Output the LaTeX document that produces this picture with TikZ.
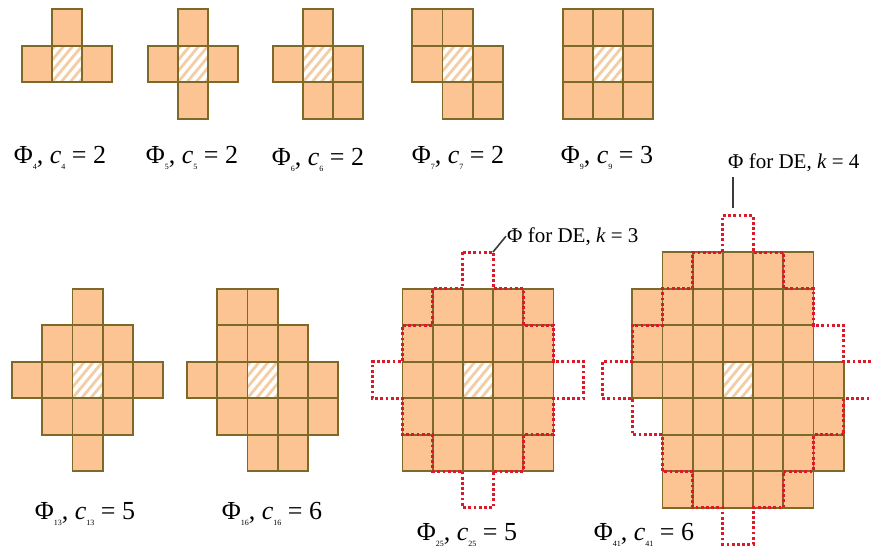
\documentclass[tikz,border=0pt]{standalone}
\usepackage{fontspec}
\setmainfont{Liberation Serif}
\definecolor{cellorange}{RGB}{251,196,146}
\definecolor{cellolive}{RGB}{125,105,40}
\definecolor{hatchorange}{RGB}{243,205,165}
\definecolor{dered}{RGB}{220,25,40}
\definecolor{leadergray}{RGB}{60,60,60}
\newcommand\lblsub[1]{\raisebox{-0.55ex}{\fontsize{8}{8}\selectfont #1}}
\newcommand\cellgroup[3]{%
  \begin{scope}[xshift=#1pt,yshift=-#2pt,x=30.2pt,y=36.5pt]
    \foreach \i/\j in {#3} \fill[cellorange] (\i-0.5,\j-0.5) rectangle (\i+0.5,\j+0.5);
    \fill[white] (-0.5,-0.5) rectangle (0.5,0.5);
    \begin{scope}
      \clip (-0.5,-0.5) rectangle (0.5,0.5);
      \foreach \t in {-1.2,-0.9,...,1.3} \draw[hatchline] (\t-0.6,-0.6) -- (\t+0.6,0.6);
    \end{scope}
    \foreach \i/\j in {#3} \draw[cellline] (\i-0.5,\j-0.5) rectangle (\i+0.5,\j+0.5);
  \end{scope}}
\tikzset{
  cellline/.style={draw=cellolive, line width=1.8pt},
  hatchline/.style={draw=hatchorange, line width=2.8pt},
  deline/.style={draw=dered, line width=3pt, dash pattern=on 2.8pt off 2.4pt},
  leader/.style={draw=leadergray, line width=1.6pt},
  philabel/.style={font=\fontsize{26}{28}\selectfont, anchor=base, inner sep=1pt},
  delabel/.style={font=\fontsize{21}{24}\selectfont, inner sep=1pt}
}
\begin{document}
\begin{tikzpicture}[x=1pt,y=-1pt]
\fill[white] (0,0) rectangle (871,547);
\useasboundingbox (0,0) rectangle (871,547);

% top row
\cellgroup{67}{64}{0/1,-1/0,0/0,1/0}
\cellgroup{193}{64}{0/1,-1/0,0/0,1/0,0/-1}
\cellgroup{318}{64}{0/1,-1/0,0/0,1/0,0/-1,1/-1}
\cellgroup{457.5}{64}{-1/1,0/1,-1/0,0/0,1/0,0/-1,1/-1}
\cellgroup{608}{64}{-1/1,0/1,1/1,-1/0,0/0,1/0,-1/-1,0/-1,1/-1}

% bottom row
\cellgroup{87.5}{380}{0/2,-1/1,0/1,1/1,-2/0,-1/0,0/0,1/0,2/0,-1/-1,0/-1,1/-1,0/-2}
\cellgroup{262.5}{380}{-1/2,0/2,-1/1,0/1,1/1,-2/0,-1/0,0/0,1/0,2/0,-1/-1,0/-1,1/-1,2/-1,0/-2,1/-2}
\cellgroup{478}{380}{-2/2,-1/2,0/2,1/2,2/2,-2/1,-1/1,0/1,1/1,2/1,-2/0,-1/0,0/0,1/0,2/0,-2/-1,-1/-1,0/-1,1/-1,2/-1,-2/-2,-1/-2,0/-2,1/-2,2/-2}
\cellgroup{738}{380}{-2/3,-1/3,0/3,1/3,2/3,-3/2,-2/2,-1/2,0/2,1/2,2/2,-3/1,-2/1,-1/1,0/1,1/1,2/1,-3/0,-2/0,-1/0,0/0,1/0,2/0,3/0,-2/-1,-1/-1,0/-1,1/-1,2/-1,3/-1,-2/-2,-1/-2,0/-2,1/-2,2/-2,3/-2,-2/-3,-1/-3,0/-3,1/-3,2/-3}

% DE outlines
\begin{scope}[xshift=478pt,yshift=-380pt,x=30.2pt,y=36.5pt]
  \draw[deline] (-0.5,3.5) -- (0.5,3.5) -- (0.5,2.5) -- (1.5,2.5) -- (1.5,1.5) -- (2.5,1.5) -- (2.5,0.5) -- (3.5,0.5) -- (3.5,-0.5) -- (2.5,-0.5) -- (2.5,-1.5) -- (1.5,-1.5) -- (1.5,-2.5) -- (0.5,-2.5) -- (0.5,-3.5) -- (-0.5,-3.5) -- (-0.5,-2.5) -- (-1.5,-2.5) -- (-1.5,-1.5) -- (-2.5,-1.5) -- (-2.5,-0.5) -- (-3.5,-0.5) -- (-3.5,0.5) -- (-2.5,0.5) -- (-2.5,1.5) -- (-1.5,1.5) -- (-1.5,2.5) -- (-0.5,2.5) -- cycle;
\end{scope}
\begin{scope}[xshift=738pt,yshift=-380pt,x=30.2pt,y=36.5pt]
  \draw[deline] (-0.5,4.5) -- (0.5,4.5) -- (0.5,3.5) -- (1.5,3.5) -- (1.5,2.5) -- (2.5,2.5) -- (2.5,1.5) -- (3.5,1.5) -- (3.5,0.5) -- (4.5,0.5) -- (4.5,-0.5) -- (3.5,-0.5) -- (3.5,-1.5) -- (2.5,-1.5) -- (2.5,-2.5) -- (1.5,-2.5) -- (1.5,-3.5) -- (0.5,-3.5) -- (0.5,-4.5) -- (-0.5,-4.5) -- (-0.5,-3.5) -- (-1.5,-3.5) -- (-1.5,-2.5) -- (-2.5,-2.5) -- (-2.5,-1.5) -- (-3.5,-1.5) -- (-3.5,-0.5) -- (-4.5,-0.5) -- (-4.5,0.5) -- (-3.5,0.5) -- (-3.5,1.5) -- (-2.5,1.5) -- (-2.5,2.5) -- (-1.5,2.5) -- (-1.5,3.5) -- (-0.5,3.5) -- cycle;
\end{scope}

% labels
\node[philabel] (l4) at (60,163) {Φ\lblsub{4}, \textit{c}\lblsub{4} = 2};
\node[philabel] (l5) at (192,163) {Φ\lblsub{5}, \textit{c}\lblsub{5} = 2};
\node[philabel] (l6) at (318,165) {Φ\lblsub{6}, \textit{c}\lblsub{6} = 2};
\node[philabel] (l7) at (458,163) {Φ\lblsub{7}, \textit{c}\lblsub{7} = 2};
\node[philabel] (l9) at (607,163) {Φ\lblsub{9}, \textit{c}\lblsub{9} = 3};
\node[philabel] (l13) at (85,519) {Φ\lblsub{13}, \textit{c}\lblsub{13} = 5};
\node[philabel] (l16) at (272,519) {Φ\lblsub{16}, \textit{c}\lblsub{16} = 6};
\node[philabel] (l25) at (467,540) {Φ\lblsub{25}, \textit{c}\lblsub{25} = 5};
\node[philabel] (l41) at (644,540) {Φ\lblsub{41}, \textit{c}\lblsub{41} = 6};

\node[delabel, anchor=base west] (de3) at (506,242) {Φ for DE, \textit{k} = 3};
\node[delabel, anchor=base west] (de4) at (727,168) {Φ for DE, \textit{k} = 4};
\coordinate (t3) at (493,252);
\coordinate (t4) at (733,208);
\draw[leader] (t3) -- (de3.west);
\draw[leader, shorten >=5pt] (t4) -- (t4 |- de4.south);
\end{tikzpicture}
\end{document}
